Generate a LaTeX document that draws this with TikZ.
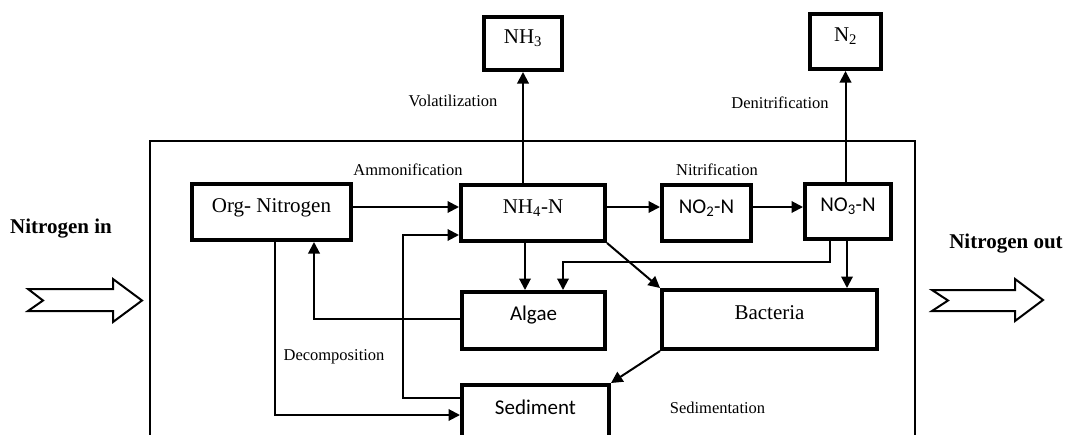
\documentclass[tikz,border=0pt]{standalone}
\usepackage{fontspec}
\setmainfont{Liberation Serif}
\newfontfamily\calib{Carlito}
\usetikzlibrary{arrows.meta}
\tikzset{
  box/.style={draw, line width=4pt, inner sep=0pt, text height=7pt, text depth=7pt, font=\fontsize{21}{23}\selectfont},
  sbox/.style={box, font=\calib\fontsize{21}{23}\selectfont},
  arr/.style={line width=2pt, -{Triangle[length=11.5pt,width=11.5pt]}},
  lab/.style={anchor=base, inner sep=0pt, font=\fontsize{16.5}{18}\selectfont},
  big/.style={anchor=base, inner sep=0pt, font=\bfseries\fontsize{21}{23}\selectfont},
  fat/.style={draw, line width=2pt, line join=miter, fill=white}
}
\begin{document}
\begin{tikzpicture}[x=1pt,y=-1pt]
\clip (0,0) rectangle (1068,434);
\fill[white] (0,0) rectangle (1068,434);
% outer system boundary
\draw[line width=2.8pt] (150,500) -- (150,141) -- (915,141) -- (915,500);
% boxes
\node[box, minimum width=159pt, minimum height=56pt] (org) at (271.5,212) {Org- Nitrogen};
\node[box, minimum width=78pt, minimum height=53pt] (nh3) at (523,43.5) {NH\textsubscript{3}};
\node[box, minimum width=71pt, minimum height=55pt] (n2) at (845.5,41.5) {N\textsubscript{2}};
\node[box, minimum width=144pt, minimum height=56pt] (nh4) at (533,213) {NH\textsubscript{4}-N};
\node[sbox, minimum width=89pt, minimum height=56pt] (no2) at (706.5,213) {NO\textsubscript{2}-N};
\node[sbox, minimum width=86pt, minimum height=55pt] (no3) at (848,211.5) {NO\textsubscript{3}-N};
\node[sbox, minimum width=143pt, minimum height=57pt] (algae) at (533.5,320.5) {Algae};
\node[box, minimum width=215pt, minimum height=59pt] (bact) at (769.5,319.5) {Bacteria};
\node[sbox, minimum width=147pt, minimum height=58pt] (sed) at (535.5,414) {Sediment};
\coordinate (lp) at (403,0);
% connectors
\draw[arr] ([yshift=5pt]org.east) -- ([yshift=5pt]org.east -| nh4.west);
\draw[arr] (nh4.north -| nh3.south) -- (nh3.south);
\draw[arr] (no3.north -| n2.south) -- (n2.south);
\draw[arr] ([yshift=6pt]nh4.east) -- ([yshift=6pt]nh4.east -| no2.west);
\draw[arr] ([yshift=6pt]no2.east) -- ([yshift=6pt]no2.east -| no3.west);
\draw[arr] ([xshift=-8pt]nh4.south) -- ([xshift=-8pt]nh4.south |- algae.north);
\draw[arr] ([xshift=-18pt]no3.south) -- ++(0,21) -| ([xshift=29.5pt]algae.north);
\draw[arr] ([xshift=-1pt]no3.south) -- ([xshift=-1pt]no3.south |- bact.north);
\draw[arr] (nh4.south east) -- (bact.north west);
\draw[arr] (bact.south west) -- (sed.north east);
\draw[arr] ([yshift=1.5pt]algae.west) -| ([xshift=42.5pt]org.south);
\draw[arr] ([xshift=3.5pt]org.south) |- ([yshift=-1pt]sed.west);
\draw[arr] ([yshift=16pt]sed.west) -- ([yshift=16pt]sed.west -| lp) |- ([yshift=-22pt]nh4.west);
% labels
\node[lab] (lvol) at (453,106) {Volatilization};
\node[lab] (lden) at (780,108) {Denitrification};
\node[lab] (lamm) at (408,175) {Ammonification};
\node[lab] (lnit) at (717,175) {Nitrification};
\node[lab] (ldec) at (334,360) {Decomposition};
\node[lab] (lsed) at (717.5,413) {Sedimentation};
\node[big] (nin) at (61,233) {Nitrogen in};
\node[big] (nout) at (1006,248) {Nitrogen out};
% big in/out arrows
\draw[fat] (28,289) -- (113,289) -- (113,279) -- (142,300.5) -- (113,322) -- (113,311) -- (28,311) -- (43,300.5) -- cycle;
\draw[fat] (932,290) -- (1015,290) -- (1015,279) -- (1043,300) -- (1015,321) -- (1015,311) -- (932,311) -- (948,300.5) -- cycle;
\end{tikzpicture}
\end{document}
